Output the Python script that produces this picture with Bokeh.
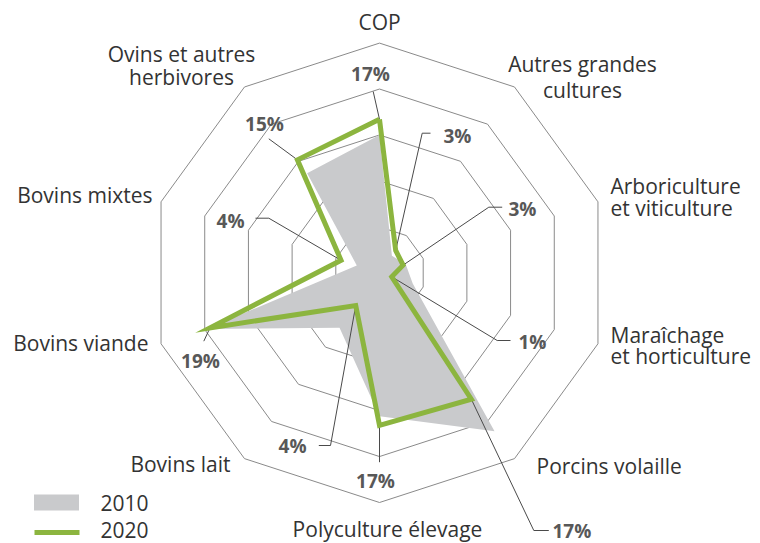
import math
from bokeh.plotting import figure
from bokeh.models import Range1d
from bokeh.core.properties import value
from bokeh.embed import file_html
from bokeh.resources import INLINE

# ---------------- data ----------------
categories = ["COP", "Autres grandes cultures", "Arboriculture et viticulture",
              "Maraîchage et horticulture", "Porcins volaille", "Polyculture élevage",
              "Bovins lait", "Bovins viande", "Bovins mixtes", "Ovins et autres herbivores"]
share_2010 = [15.0, 2.3, 3.0, 3.8, 21.3, 15.6, 7.4, 19.8, 2.6, 13.4]
share_2020 = [16.7, 3.0, 2.7, 1.4, 17.0, 16.6, 4.4, 19.4, 4.4, 15.2]
ring_levels = [5, 10, 15, 20, 25]
series_names = ["2010", "2020"]

# ---------------- layout ----------------
W, H = 760, 543
CX, CY, R = 379.0, 272.3, 229.7
VMAX = 25.0
N = len(categories)

GREEN = "#8cb53f"
GREY = "#c9cacc"
RING = "#8a8a8a"
TXT = "#333333"
VAL = "#585858"
FONT = "Open Sans"

p = figure(width=W, height=H, output_backend="svg", toolbar_location=None,
           x_range=Range1d(0, W), y_range=Range1d(H, 0),
           min_border=0, outline_line_color=None)
p.axis.visible = False
p.grid.visible = False
p.background_fill_color = "white"
p.border_fill_color = "white"


def polar(v, i):
    a = math.radians(360.0 / N * i)
    r = v / VMAX * R
    return CX + r * math.sin(a), CY - r * math.cos(a)


# rings
rx, ry = [], []
for lv in ring_levels:
    pts = [polar(lv, i) for i in range(N)] + [polar(lv, 0)]
    rx.append([q[0] for q in pts])
    ry.append([q[1] for q in pts])
p.multi_line(rx, ry, line_color=RING, line_width=1)

# 2010 area
p10 = [polar(v, i) for i, v in enumerate(share_2010)]
p.patch([q[0] for q in p10], [q[1] for q in p10], fill_color=GREY, line_color=None)

# leader lines + value labels (2020)
leader_layout = [
    ((372.7, 91.0), None, (370, 73), "center"),
    ((421.7, 132.7), 430.0, (443, 135), "left"),
    ((488.3, 206.7), 501.7, (508, 208), "left"),
    ((496.7, 340.0), 510.0, (518, 341.5), "left"),
    ((533.3, 530.0), 548.3, (552, 530), "left"),
    ((379.0, 461.7), None, (375, 480), "center"),
    ((330.0, 445.0), 318.3, (306, 445), "right"),
    ((203.3, 340.7), None, (200, 360), "center"),
    ((268.3, 217.7), 255.0, (244, 220), "right"),
    ((268.3, 138.3), None, (264, 123), "center"),
]
p20 = [polar(v, i) for i, v in enumerate(share_2020)]
lx, ly = [], []
vt = {"left": ([], [], []), "right": ([], [], []), "center": ([], [], [])}
for i, (elbow, endx, tpos, al) in enumerate(leader_layout):
    xs = [p20[i][0], elbow[0]]
    ys = [p20[i][1], elbow[1]]
    if endx is not None:
        xs.append(endx)
        ys.append(elbow[1])
    lx.append(xs)
    ly.append(ys)
    vt[al][0].append(tpos[0])
    vt[al][1].append(tpos[1])
    vt[al][2].append(f"{round(share_2020[i])}%")
p.multi_line(lx, ly, line_color="#4a4a4a", line_width=1)

# 2020 line
p.line([q[0] for q in p20] + [p20[0][0]], [q[1] for q in p20] + [p20[0][1]],
       line_color=GREEN, line_width=5, line_join="miter")

for al, (xs, ys, ts) in vt.items():
    if xs:
        p.text(xs, ys, text=ts, text_align=al, text_baseline="middle",
               text_font=value(FONT), text_font_size="19px", text_font_style="bold",
               text_color=VAL)

# category labels
cat_layout = [
    (["COP"], 379, [21.7], "center"),
    (["Autres grandes", "cultures"], 582, [63, 89], "center"),
    (["Arboriculture", "et viticulture"], 610, [185, 207], "left"),
    (["Maraîchage", "et horticulture"], 610, [334, 355], "left"),
    (["Porcins volaille"], 536, [465], "left"),
    (["Polyculture élevage"], 387, [528], "center"),
    (["Bovins lait"], 230, [463], "right"),
    (["Bovins viande"], 148, [342], "right"),
    (["Bovins mixtes"], 152, [194], "right"),
    (["Ovins et autres", "herbivores"], 181, [53, 76], "center"),
]
ct = {"left": ([], [], []), "right": ([], [], []), "center": ([], [], [])}
for lines, x, ys, al in cat_layout:
    for ln, y in zip(lines, ys):
        ct[al][0].append(x)
        ct[al][1].append(y)
        ct[al][2].append(ln)
for al, (xs, ys, ts) in ct.items():
    p.text(xs, ys, text=ts, text_align=al, text_baseline="middle",
           text_font=value(FONT), text_font_size="21px", text_color=TXT)

# legend
p.quad(left=[33.5], right=[78.5], top=[494], bottom=[510], fill_color=GREY, line_color=None)
p.segment(x0=[34], y0=[532], x1=[79], y1=[532], line_color=GREEN, line_width=5)
p.text([100, 100], [502, 529], text=series_names, text_align="left", text_baseline="middle",
       text_font=value(FONT), text_font_size="21px", text_color=TXT)

open("out.html", "w").write(file_html(p, INLINE))
